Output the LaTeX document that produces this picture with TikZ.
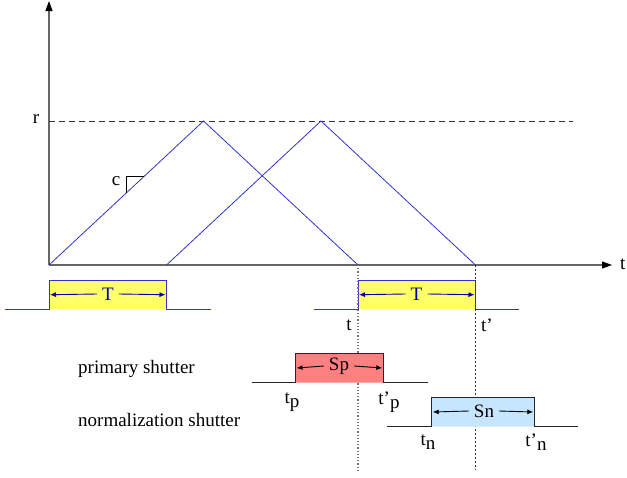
\documentclass[tikz,border=0pt]{standalone}
\usepackage{fontspec}
\setmainfont{Liberation Serif}
\usetikzlibrary{arrows.meta}

\definecolor{rampblue}{RGB}{51,51,204}
\definecolor{darkblue}{RGB}{0,0,170}
\definecolor{pulseyellow}{RGB}{255,255,102}
\definecolor{shutterred}{RGB}{255,128,128}
\definecolor{shutterblue}{RGB}{198,230,255}

\begin{document}
\begin{tikzpicture}[x=1pt,y=-1pt,font=\fontsize{19}{21}\selectfont,
    axis/.style={draw=black!60, line width=1.1pt, -{Triangle[length=10pt,width=7pt,color=black]}},
    ramp/.style={rampblue, line width=0.8pt},
    level/.style={black!80, dashed, dash pattern=on 6pt off 4pt, line width=0.7pt},
    marker/.style={black!55, dotted, line width=1.2pt},
    pulse/.style={draw=rampblue, fill=pulseyellow, line width=1pt},
    shutter/.style={draw=black!85, line width=1pt},
    span/.style={line width=0.9pt, -{Latex[length=6pt,width=5pt]}},
    lbl/.style={inner sep=1pt}]
  \useasboundingbox (0,0) rectangle (627,477);

  % axes
  \coordinate (O) at (49,265);
  \coordinate (ytop) at (49,1);
  \coordinate (xend) at (612,265);
  \draw[axis] (O) -- (ytop);
  \draw[axis] (O) -- (xend);
  \node[lbl, anchor=west] (tlab) at (619,264) {t};

  % level r
  \node[lbl] (rlab) at (36,119) {r};
  \coordinate (rend) at (573,121);
  \draw[level] (49,121) -- (rend);

  % the two ramps
  \coordinate (a0) at (49,265);
  \coordinate (apk) at (203.5,121);
  \coordinate (a1) at (358,265);
  \coordinate (b0) at (166.5,265);
  \coordinate (bpk) at (321,121);
  \coordinate (b1) at (475.5,265);
  \draw[ramp] (a0) -- (apk) -- (a1);
  \draw[ramp] (b0) -- (bpk) -- (b1);

  % slope mark
  \node[lbl] (clab) at (116,181) {c};
  \draw[black, line width=0.7pt] (126.7,193) -- (126.7,176.7) -- (144,176.7);

  % pulse T at the start
  \draw[pulse] (5,309) -- (49,309) -- (49,280) -- (166.5,280) -- (166.5,309) -- (211,309);
  \node[lbl, text=darkblue, inner sep=5pt] (T1) at (108,294) {T};
  \draw[span, darkblue] (T1.west) -- (50,294.7);
  \draw[span, darkblue] (T1.east) -- (165.5,294.7);

  % pulse T at t
  \draw[pulse] (314,309) -- (358,309) -- (358,280) -- (475.5,280) -- (475.5,309) -- (519,309);
  \node[lbl, text=darkblue, inner sep=5pt] (T2) at (416.5,294) {T};
  \draw[span, darkblue] (T2.west) -- (359,294.7);
  \draw[span, darkblue] (T2.east) -- (474.5,294.7);
  \node[lbl] (tstart) at (349,325) {t};
  \node[lbl] (tend) at (487,325) {t’};

  % markers down from t and t'
  \draw[marker] (a1) -- (358,470);
  \draw[marker, black!80, dash pattern=on 2pt off 2pt, line width=0.8pt] (b1) -- (475.5,470);

  % primary shutter
  \node[lbl, anchor=west] (prim) at (77,369) {primary shutter};
  \draw[shutter, fill=shutterred] (252,382.7) -- (295.5,382.7) -- (295.5,353.3) -- (383.3,353.3) -- (383.3,382.7) -- (428,382.7);
  \node[lbl, inner sep=5pt] (Sp) at (339,366) {Sp};
  \draw[span, black] (Sp.west) -- (296.5,368);
  \draw[span, black] (Sp.east) -- (382.3,368);
  \node[lbl] (tp) at (292,402) {t\raisebox{-0.5ex}{p}};
  \node[lbl] (tpe) at (389,402) {t’\raisebox{-0.5ex}{p}};

  % normalization shutter
  \node[lbl, anchor=west] (norm) at (77,420) {normalization shutter};
  \draw[shutter, fill=shutterblue] (387.3,426.7) -- (431.7,426.7) -- (431.7,397.3) -- (534.3,397.3) -- (534.3,426.7) -- (578.3,426.7);
  \node[lbl, inner sep=5pt] (Sn) at (484,411) {Sn};
  \draw[span, black] (Sn.west) -- (432.7,412);
  \draw[span, black] (Sn.east) -- (533.3,412);
  \node[lbl] (tn) at (428,442) {t\raisebox{-0.5ex}{n}};
  \node[lbl] (tne) at (536,442) {t’\raisebox{-0.5ex}{n}};
\end{tikzpicture}
\end{document}
